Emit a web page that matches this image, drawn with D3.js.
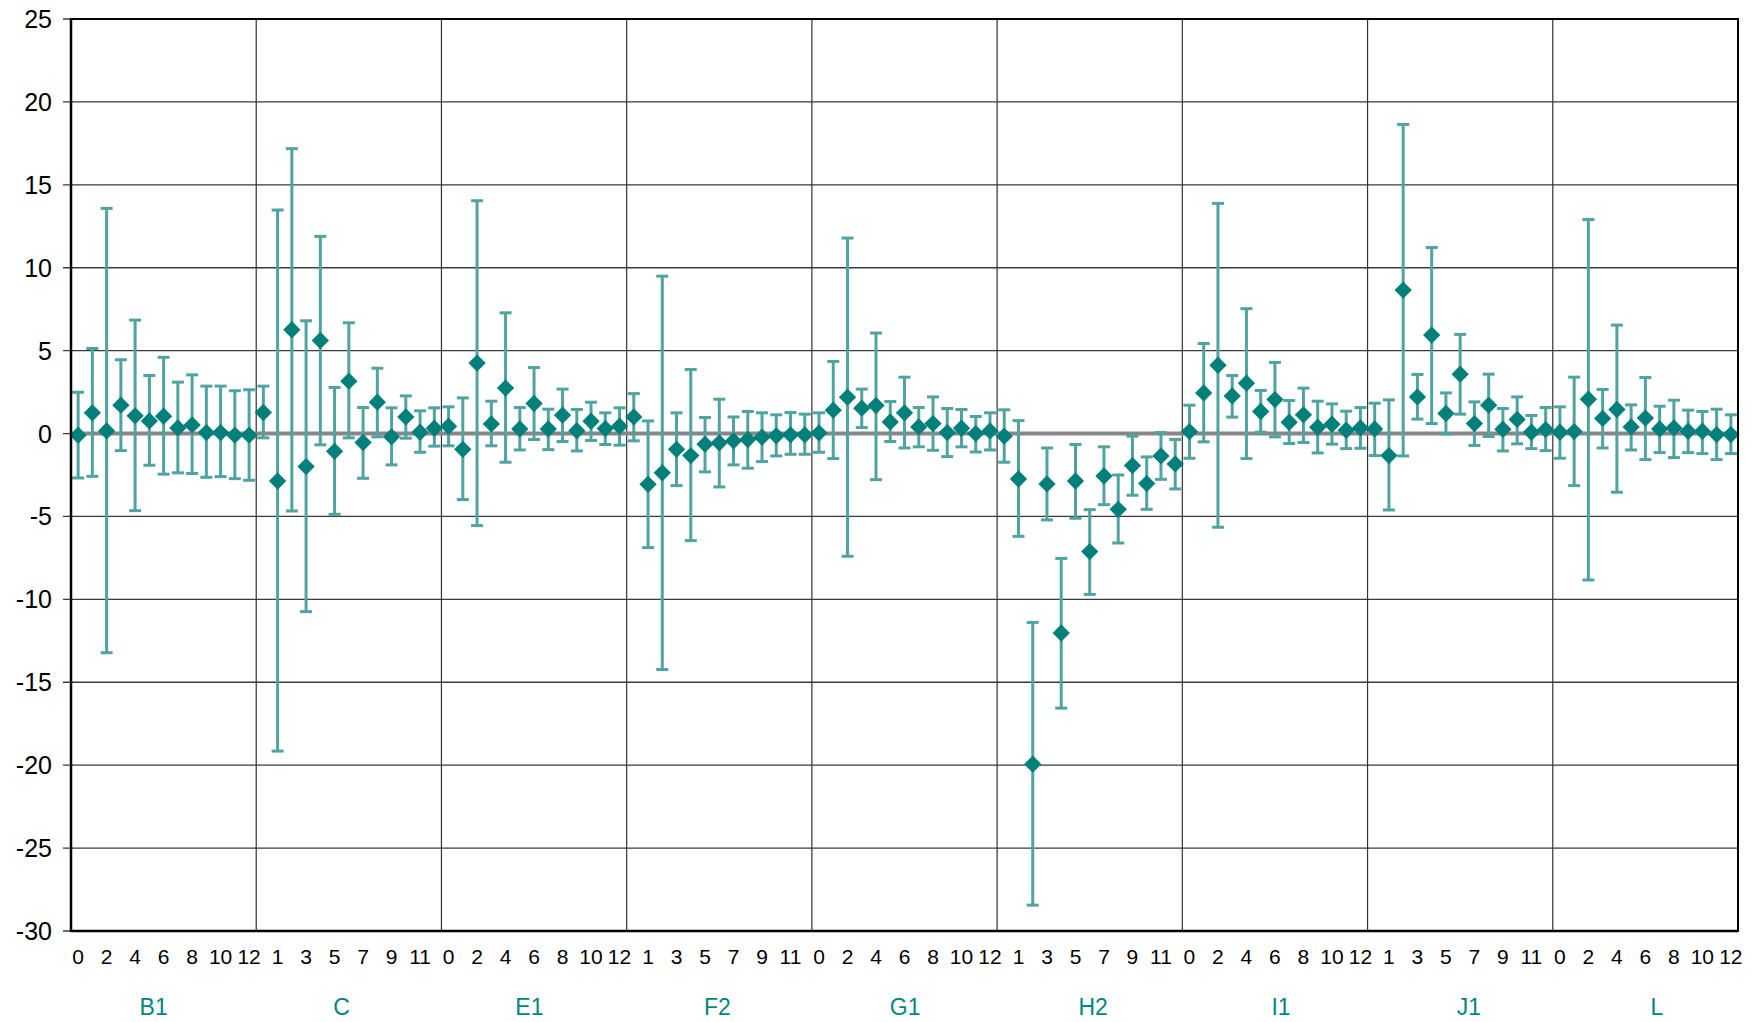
<!DOCTYPE html>
<html lang="en">
<head>
  <meta charset="UTF-8" />
  <script src="https://cdn.jsdelivr.net/npm/d3@7/dist/d3.min.js"></script>
  <title>Error bar chart</title>
  <style>
    body { margin: 0; background: #fff; }
    text { font-family: "Liberation Sans", Arial, sans-serif; }
  </style>
</head>
<body>
  <svg width="1753" height="1022"></svg>
  <script>
    // groups along the x axis, each with hours 0..12
    const groups = ["B1", "C", "E1", "F2", "G1", "H2", "I1", "J1", "L"];
    const hours = [0, 1, 2, 3, 4, 5, 6, 7, 8, 9, 10, 11, 12];
    const yTicks = [25, 20, 15, 10, 5, 0, -5, -10, -15, -20, -25, -30];

    // mean per group/hour (group order as above, 13 values each)
    const mean = [
      -0.1, 1.25, 0.16, 1.71, 1.07, 0.76, 1.05, 0.34, 0.52, 0.06, 0.06, -0.1, -0.1,      // B1
      1.27, -2.86, 6.26, -1.99, 5.61, -1.07, 3.16, -0.54, 1.89, -0.2, 1.0, 0.08, 0.32,   // C
      0.44, -0.95, 4.25, 0.58, 2.74, 0.28, 1.81, 0.28, 1.11, 0.17, 0.74, 0.3, 0.44,      // E1
      1.0, -3.06, -2.37, -0.95, -1.33, -0.64, -0.56, -0.44, -0.36, -0.22, -0.14, -0.08, -0.08, // F2
      0.04, 1.41, 2.19, 1.53, 1.69, 0.7, 1.25, 0.4, 0.6, 0.06, 0.32, 0.0, 0.16,         // G1
      -0.16, -2.74, -19.94, -3.04, -12.03, -2.86, -7.12, -2.56, -4.57, -1.93, -3.02, -1.35, -1.83, // H2
      0.12, 2.45, 4.12, 2.27, 3.04, 1.33, 2.05, 0.68, 1.13, 0.38, 0.56, 0.2, 0.34,      // I1
      0.28, -1.33, 8.65, 2.21, 5.94, 1.21, 3.58, 0.6, 1.71, 0.26, 0.85, 0.08, 0.24,     // J1
      0.08, 0.12, 2.07, 0.91, 1.45, 0.4, 0.93, 0.28, 0.34, 0.14, 0.14, -0.06, -0.06     // L
    ];
    const upper = [
      2.49, 5.13, 13.58, 4.45, 6.84, 3.5, 4.6, 3.1, 3.54, 2.86, 2.86, 2.58, 2.64,
      2.86, 13.48, 17.18, 6.8, 11.89, 2.78, 6.68, 1.57, 3.94, 1.55, 2.27, 1.37, 1.55,
      1.61, 2.15, 14.04, 1.95, 7.28, 1.57, 3.98, 1.47, 2.68, 1.45, 1.89, 1.25, 1.55,
      2.41, 0.76, 9.49, 1.25, 3.86, 0.97, 2.07, 1.0, 1.33, 1.25, 1.13, 1.27, 1.17,
      1.25, 4.35, 11.79, 2.68, 6.06, 1.93, 3.4, 1.57, 2.21, 1.51, 1.45, 1.03, 1.25,
      1.43, 0.78, -11.39, -0.87, -7.53, -0.66, -4.59, -0.8, -2.5, -0.16, -1.41, 0.06, -0.36,
      1.71, 5.43, 13.88, 3.5, 7.53, 2.6, 4.29, 1.99, 2.74, 1.95, 1.79, 1.35, 1.57,
      1.83, 2.03, 18.64, 3.56, 11.22, 2.45, 5.98, 1.91, 3.58, 1.51, 2.21, 1.09, 1.57,
      1.61, 3.4, 12.91, 2.66, 6.54, 1.73, 3.38, 1.65, 2.01, 1.41, 1.33, 1.47, 1.13
    ];
    const lower = [
      -2.68, -2.58, -13.22, -1.03, -4.65, -1.91, -2.45, -2.37, -2.41, -2.64, -2.6, -2.72, -2.82,
      -0.26, -19.15, -4.67, -10.74, -0.68, -4.87, -0.26, -2.7, -0.2, -1.89, -0.28, -1.13, -0.76,
      -0.74, -3.98, -5.55, -0.74, -1.73, -0.99, -0.36, -0.97, -0.48, -1.05, -0.42, -0.66, -0.7,
      -0.44, -6.88, -14.23, -3.14, -6.46, -2.31, -3.22, -1.89, -2.09, -1.69, -1.35, -1.25, -1.25,
      -1.13, -1.51, -7.4, 0.36, -2.78, -0.48, -0.87, -0.8, -1.01, -1.39, -0.8, -1.11, -0.99,
      -1.73, -6.2, -28.44, -5.21, -16.56, -5.11, -9.7, -4.29, -6.6, -3.72, -4.57, -2.76, -3.34,
      -1.49, -0.5, -5.65, 0.99, -1.51, 0.08, -0.2, -0.6, -0.54, -1.17, -0.64, -0.91, -0.89,
      -1.33, -4.61, -1.35, 0.87, 0.6, -0.02, 1.17, -0.72, -0.18, -1.05, -0.62, -0.91, -1.03,
      -1.49, -3.14, -8.83, -0.87, -3.54, -0.99, -1.57, -1.15, -1.45, -1.15, -1.21, -1.57, -1.21
    ];

    const svg = d3.select("svg");
    const plot = { left: 71, right: 1738, top: 19, bottom: 931 };

    const data = [];
    groups.forEach((g, gi) => hours.forEach((h, hi) => {
      const i = gi * hours.length + hi;
      data.push({ key: g + "_" + h, group: g, hour: h, idx: i, mean: mean[i], hi: upper[i], lo: lower[i] });
    }));

    const xScale = d3.scaleBand()
      .domain(data.map(d => d.key))
      .range([plot.left, plot.right])
      .padding(0);
    const yScale = d3.scaleLinear()
      .domain([-30, 25])
      .range([plot.bottom, plot.top]);
    const bw = xScale.bandwidth();
    const cx = d => xScale(d.key) + bw / 2;

    // horizontal grid
    svg.append("g")
      .selectAll("line")
      .data(yTicks)
      .enter()
      .append("line")
      .attr("x1", plot.left - 8)
      .attr("x2", plot.right)
      .attr("y1", d => yScale(d))
      .attr("y2", d => yScale(d))
      .attr("stroke", "#3a3a3a")
      .attr("stroke-width", 1.3);

    // vertical lines between groups
    svg.append("g")
      .selectAll("line")
      .data(groups.slice(1))
      .enter()
      .append("line")
      .attr("x1", g => xScale(g + "_0"))
      .attr("x2", g => xScale(g + "_0"))
      .attr("y1", plot.top)
      .attr("y2", plot.bottom)
      .attr("stroke", "#333")
      .attr("stroke-width", 1.2);

    // zero line
    svg.append("line")
      .attr("x1", plot.left)
      .attr("x2", plot.right)
      .attr("y1", yScale(0))
      .attr("y2", yScale(0))
      .attr("stroke", "#878787")
      .attr("stroke-width", 4);

    // error bars
    const barColor = "#4fa3a0";
    const capW = 12;
    const eb = svg.append("g")
      .selectAll("g")
      .data(data)
      .enter()
      .append("g")
      .attr("stroke", barColor)
      .attr("stroke-width", 3);
    eb.append("line")
      .attr("x1", cx).attr("x2", cx)
      .attr("y1", d => yScale(d.hi))
      .attr("y2", d => yScale(d.lo));
    eb.append("line")
      .attr("x1", d => cx(d) - capW / 2).attr("x2", d => cx(d) + capW / 2)
      .attr("y1", d => yScale(d.hi)).attr("y2", d => yScale(d.hi));
    eb.append("line")
      .attr("x1", d => cx(d) - capW / 2).attr("x2", d => cx(d) + capW / 2)
      .attr("y1", d => yScale(d.lo)).attr("y2", d => yScale(d.lo));

    // diamond markers
    svg.append("g")
      .selectAll("path")
      .data(data)
      .enter()
      .append("path")
      .attr("d", d3.symbol(d3.symbolSquare, 150))
      .attr("transform", d => `translate(${cx(d)},${yScale(d.mean)}) rotate(45)`)
      .attr("fill", "#007f7b");

    // frame
    svg.append("rect")
      .attr("x", plot.left)
      .attr("y", plot.top)
      .attr("width", plot.right - plot.left)
      .attr("height", plot.bottom - plot.top)
      .attr("fill", "none")
      .attr("stroke", "#000")
      .attr("stroke-width", 2);
    svg.append("line")
      .attr("x1", plot.left).attr("x2", plot.left)
      .attr("y1", plot.top).attr("y2", plot.bottom + 1)
      .attr("stroke", "#000").attr("stroke-width", 2.5);
    svg.append("line")
      .attr("x1", plot.left).attr("x2", plot.right)
      .attr("y1", plot.bottom).attr("y2", plot.bottom)
      .attr("stroke", "#000").attr("stroke-width", 2.5);

    // y labels
    svg.append("g")
      .selectAll("text")
      .data(yTicks)
      .enter()
      .append("text")
      .attr("x", plot.left - 19)
      .attr("y", d => yScale(d))
      .attr("dy", "0.36em")
      .attr("text-anchor", "end")
      .attr("font-size", 25)
      .attr("fill", "#000")
      .text(d => d);

    // hour labels, every second category
    svg.append("g")
      .selectAll("text")
      .data(data.filter(d => d.idx % 2 === 0))
      .enter()
      .append("text")
      .attr("x", cx)
      .attr("y", 956)
      .attr("dy", "0.36em")
      .attr("text-anchor", "middle")
      .attr("font-size", 21)
      .attr("fill", "#000")
      .text(d => d.hour);

    // group labels (spread a little wider than the group centres, as in the source)
    const labelX = d3.scaleLinear()
      .domain([0, groups.length - 1])
      .range([xScale("B1_5") + bw * 0.8, xScale("L_7") + bw * 0.3]);
    svg.append("g")
      .selectAll("text")
      .data(groups)
      .enter()
      .append("text")
      .attr("x", (g, i) => labelX(i))
      .attr("y", 1007)
      .attr("dy", "0.36em")
      .attr("text-anchor", "middle")
      .attr("font-size", 23)
      .attr("fill", "#00857f")
      .text(g => g);
  </script>
</body>
</html>
